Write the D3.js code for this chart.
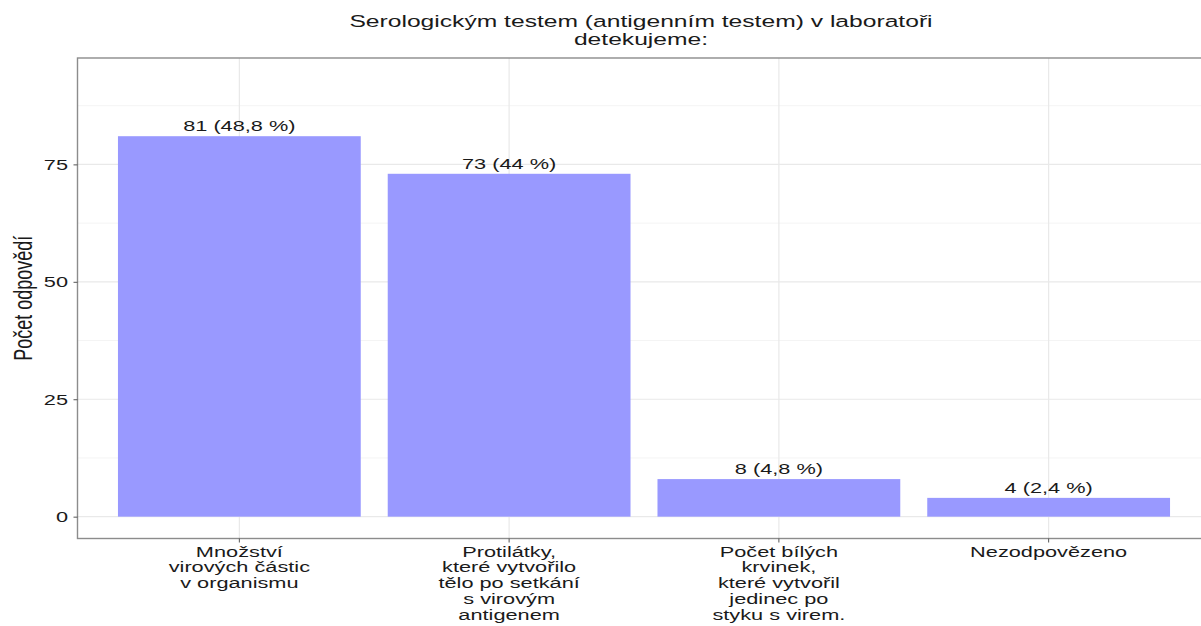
<!DOCTYPE html>
<html>
<head>
<meta charset="utf-8">
<script src="https://cdn.jsdelivr.net/npm/d3@7"></script>
<style>
  body { margin: 0; background: #fff; }
  svg text { font-family: "Liberation Sans", Arial, sans-serif; }
</style>
</head>
<body>
<div id="chart"></div>
<script>
const categories = [
  ["Množství", "virových částic", "v organismu"],
  ["Protilátky,", "které vytvořilo", "tělo po setkání", "s virovým", "antigenem"],
  ["Počet bílých", "krvinek,", "které vytvořil", "jedinec po", "styku s virem."],
  ["Nezodpovězeno"]
];
const counts = [81, 73, 8, 4];
const labels = ["81 (48,8 %)", "73 (44 %)", "8 (4,8 %)", "4 (2,4 %)"];
const yTicks = [0, 25, 50, 75];
const yMinor = [12.5, 37.5, 62.5, 87.5];
const titleLines = ["Serologickým testem (antigenním testem) v laboratoři", "detekujeme:"];

let width = 1201,
  height = 626;
let pLeft = 77.5, pRight = 1210.5, pTop = 58, pBottom = 538.5;
let sx = 1.45; // the source picture's text is stretched sideways

let svg = d3.select("#chart")
  .append("svg")
  .attr("width", width)
  .attr("height", height);

// ggplot-like expansion: 0.6 band on each side for discrete, 5% for continuous
let idx = d3.range(categories.length);
let x = d3.scaleLinear()
  .domain([-0.6, categories.length - 1 + 0.6])
  .range([pLeft, pRight]);
let step = x(1) - x(0);

let y = d3.scaleLinear()
  .domain([-4.65, 97.65])
  .range([pBottom, pTop]);

// grid
let grid = svg.append("g");
grid.selectAll(".minor")
  .data(yMinor)
  .join("line")
  .attr("x1", pLeft).attr("x2", pRight)
  .attr("y1", d => y(d)).attr("y2", d => y(d))
  .attr("stroke", "#f4f4f4")
  .attr("stroke-width", 1);
grid.selectAll(".major")
  .data(yTicks)
  .join("line")
  .attr("x1", pLeft).attr("x2", pRight)
  .attr("y1", d => y(d)).attr("y2", d => y(d))
  .attr("stroke", "#e9e9e9")
  .attr("stroke-width", 1.2);
grid.selectAll(".vmajor")
  .data(idx)
  .join("line")
  .attr("x1", d => x(d)).attr("x2", d => x(d))
  .attr("y1", pTop).attr("y2", pBottom)
  .attr("stroke", "#e9e9e9")
  .attr("stroke-width", 1.2);

// bars
svg.selectAll("rect.bar")
  .data(counts)
  .join("rect")
  .attr("class", "bar")
  .attr("x", (d, i) => x(i) - step * 0.45)
  .attr("width", step * 0.9)
  .attr("y", d => y(d))
  .attr("height", d => y(0) - y(d))
  .attr("fill", "#9999ff");

// bar labels
svg.selectAll("text.lbl")
  .data(labels)
  .join("text")
  .attr("class", "lbl")
  .attr("transform", (d, i) => `translate(${x(i)},${y(counts[i]) - 5}) scale(${sx},1)`)
  .attr("text-anchor", "middle")
  .attr("font-size", 15)
  .attr("fill", "#1a1a1a")
  .text(d => d);

// panel border
svg.append("rect")
  .attr("x", pLeft).attr("y", pTop)
  .attr("width", pRight - pLeft).attr("height", pBottom - pTop)
  .attr("fill", "none")
  .attr("stroke", "#8c8c8c")
  .attr("stroke-width", 1.4);

// y axis
let yAxis = svg.append("g")
  .attr("transform", `translate(${pLeft},0)`)
  .call(d3.axisLeft(y).tickValues(yTicks).tickSize(4));
yAxis.select(".domain").remove();
yAxis.selectAll(".tick line").attr("stroke", "#555");
yAxis.selectAll(".tick text")
  .attr("x", 0)
  .attr("transform", `translate(-9.5,0) scale(${sx},1)`)
  .attr("font-size", 15)
  .attr("font-family", "Liberation Sans, Arial, sans-serif")
  .attr("fill", "#1a1a1a");

// x axis ticks and labels
let xAxis = svg.append("g")
  .attr("transform", `translate(0,${pBottom})`);
xAxis.selectAll("line")
  .data(idx)
  .join("line")
  .attr("x1", d => x(d)).attr("x2", d => x(d))
  .attr("y1", 0).attr("y2", 4)
  .attr("stroke", "#555");
xAxis.selectAll("text")
  .data(categories)
  .join("text")
  .attr("text-anchor", "middle")
  .attr("font-size", 15)
  .attr("fill", "#1a1a1a")
  .attr("transform", (d, i) => `translate(${x(i)},18) scale(${sx},1)`)
  .selectAll("tspan")
  .data(d => d)
  .join("tspan")
  .attr("x", 0)
  .attr("dy", (d, j) => j === 0 ? 0 : 15.8)
  .text(d => d);

// y title
svg.append("text")
  .attr("transform", `translate(32,${(pTop + pBottom) / 2}) scale(${sx},1) rotate(-90)`)
  .attr("text-anchor", "middle")
  .attr("font-size", 18)
  .attr("fill", "#1a1a1a")
  .text("Počet odpovědí");

// title
svg.append("text")
  .attr("transform", `translate(${(pLeft + pRight) / 2 - 3},27) scale(${sx},1)`)
  .attr("text-anchor", "middle")
  .attr("font-size", 17)
  .attr("fill", "#1a1a1a")
  .selectAll("tspan")
  .data(titleLines)
  .join("tspan")
  .attr("x", 0)
  .attr("dy", (d, i) => i === 0 ? 0 : 18)
  .text(d => d);
</script>
</body>
</html>
